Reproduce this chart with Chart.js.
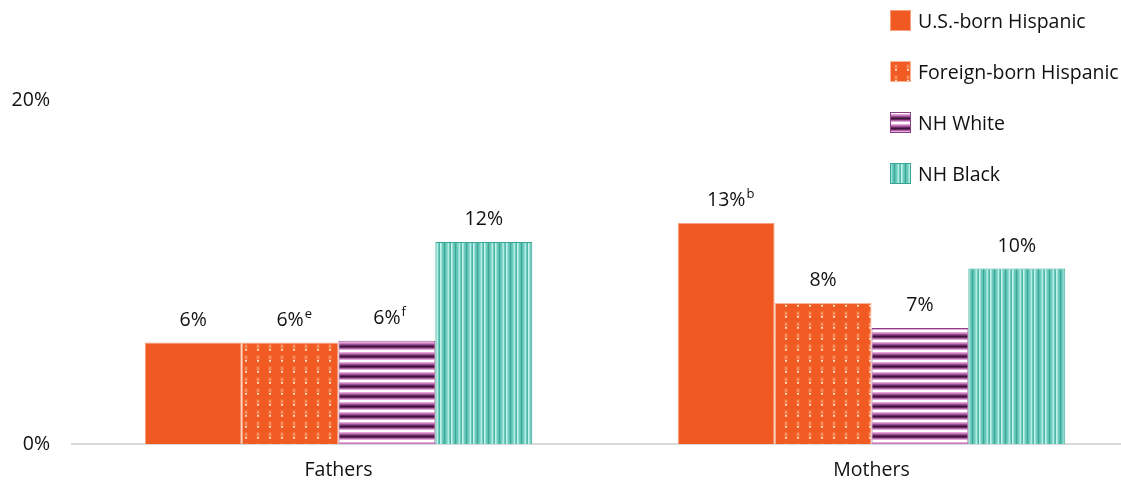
<!DOCTYPE html>
<html>
<head>
<meta charset="utf-8">
<script src="https://cdn.jsdelivr.net/npm/chart.js@4"></script>
<style>
  html, body { margin: 0; padding: 0; background: #fff; overflow: hidden; }
  #wrap { position: relative; width: 1140px; height: 485px; }
  #legend { position: absolute; left: 890px; top: 0; font-family: "Open Sans", sans-serif; font-size: 19.5px; color: #111; }
  .item { position: absolute; left: 0; height: 22px; display: flex; align-items: center; white-space: nowrap; }
  .item canvas { width: 21px; height: 21px; margin-right: 7px; }
</style>
</head>
<body>
<div id="wrap">
  <canvas id="chart" width="1140" height="485"></canvas>
  <div id="legend"></div>
</div>
<script>
// Data
const categories = ["Fathers", "Mothers"];
const seriesNames = ["U.S.-born Hispanic", "Foreign-born Hispanic", "NH White", "NH Black"];
const usBorn = [5.9, 12.85];
const foreignBorn = [5.9, 8.2];
const nhWhite = [6.0, 6.75];
const nhBlack = [11.75, 10.2];
const valueLabels = [["6%", "13%"], ["6%", "8%"], ["6%", "7%"], ["12%", "10%"]];
const superscripts = [["", "b"], ["e", ""], ["f", ""], ["", ""]];
const yTicks = [0, 20];

const FONT = "'Open Sans', sans-serif";

// Pattern fills
function makePattern(kind) {
  const c = document.createElement("canvas");
  const g = c.getContext("2d");
  if (kind === "dots") {
    c.width = 12; c.height = 11;
    g.fillStyle = "#f15a22"; g.fillRect(0, 0, 12, 11);
    g.fillStyle = "#f36a35"; g.fillRect(4, 3, 4, 5);
    g.fillStyle = "#f7905f"; g.fillRect(5, 4, 2, 3);
    g.fillStyle = "#ffe3d0"; g.fillRect(5, 8, 2, 1);
    g.fillStyle = "#fbbf9f"; g.fillRect(5, 9, 2, 1);
  } else if (kind === "hstripes") {
    c.width = 4; c.height = 10;
    const rows = ["#ffffff", "#ffffff", "#e3a9d8", "#c77dbb", "#9b4d93", "#6a2a63", "#3e1439", "#6a2a63", "#b066a6", "#e3a9d8"];
    rows.forEach((col, i) => { g.fillStyle = col; g.fillRect(0, i, 4, 1); });
  } else if (kind === "vstripes") {
    c.width = 11; c.height = 4;
    const cols = ["#c9f3ec", "#98e2d7", "#6ccdbf", "#5ec2b4", "#3ea597", "#5ec2b4", "#6ccdbf", "#8fdcd0", "#b5ece3", "#6ccdbf", "#4fb5a7"];
    cols.forEach((col, i) => { g.fillStyle = col; g.fillRect(i, 0, 1, 4); });
  }
  return document.getElementById("chart").getContext("2d").createPattern(c, "repeat");
}

const fills = ["#f05a22", makePattern("dots"), makePattern("hstripes"), makePattern("vstripes")];
const borders = ["#f7a17f", "#fbb597", "#8c3f86", "#3aa597"];
const seriesData = [usBorn, foreignBorn, nhWhite, nhBlack];

// Legend
const legend = document.getElementById("legend");
const legendY = [9, 60, 111, 162];
seriesNames.forEach((name, i) => {
  const item = document.createElement("div");
  item.className = "item";
  item.style.top = legendY[i] + "px";
  const sw = document.createElement("canvas");
  sw.width = 21; sw.height = 21;
  const sg = sw.getContext("2d");
  sg.fillStyle = fills[i]; sg.fillRect(0, 0, 21, 21);
  sg.strokeStyle = borders[i]; sg.lineWidth = 1; sg.strokeRect(0.5, 0.5, 20, 20);
  item.appendChild(sw);
  item.appendChild(document.createTextNode(name));
  legend.appendChild(item);
});

// Value labels with superscripts
const labelPlugin = {
  id: "valueLabels",
  afterDatasetsDraw(chart) {
    const ctx = chart.ctx;
    ctx.save();
    chart.data.datasets.forEach((ds, di) => {
      chart.getDatasetMeta(di).data.forEach((bar, i) => {
        const main = valueLabels[di][i];
        const sup = superscripts[di][i];
        ctx.font = "19.5px " + FONT;
        const wMain = ctx.measureText(main).width;
        const x = bar.x - wMain / 2;
        const y = bar.y - 17;
        ctx.fillStyle = "#111";
        ctx.textBaseline = "alphabetic";
        ctx.textAlign = "left";
        ctx.fillText(main, x, y);
        if (sup) {
          ctx.font = "13px " + FONT;
          ctx.fillText(sup, x + wMain + 1, y - 8);
        }
      });
    });
    ctx.restore();
  }
};

new Chart(document.getElementById("chart"), {
  type: "bar",
  data: {
    labels: categories,
    datasets: seriesNames.map((name, i) => ({
      label: name,
      data: seriesData[i],
      backgroundColor: fills[i],
      borderColor: borders[i],
      borderWidth: 1,
      barPercentage: 1,
      categoryPercentage: 0.727
    }))
  },
  options: {
    responsive: false,
    animation: false,
    layout: { padding: { top: 100, left: 0, right: 2, bottom: 0 } },
    plugins: { legend: { display: false }, tooltip: { enabled: false } },
    scales: {
      x: {
        grid: { display: false },
        border: { display: true, color: "#d9d9d9", width: 2 },
        ticks: { color: "#111", font: { family: "Open Sans", size: 19.5 }, padding: 7 },
        afterFit(scale) { scale.height = 41; }
      },
      y: {
        min: 0,
        max: 20,
        grid: { display: false },
        border: { display: false },
        afterBuildTicks(scale) { scale.ticks = yTicks.map(v => ({ value: v })); },
        ticks: {
          color: "#111",
          font: { family: "Open Sans", size: 19.5 },
          padding: 14,
          callback: v => v + "%"
        },
        afterFit(scale) { scale.width = 72; }
      }
    }
  },
  plugins: [labelPlugin]
});
</script>
</body>
</html>
